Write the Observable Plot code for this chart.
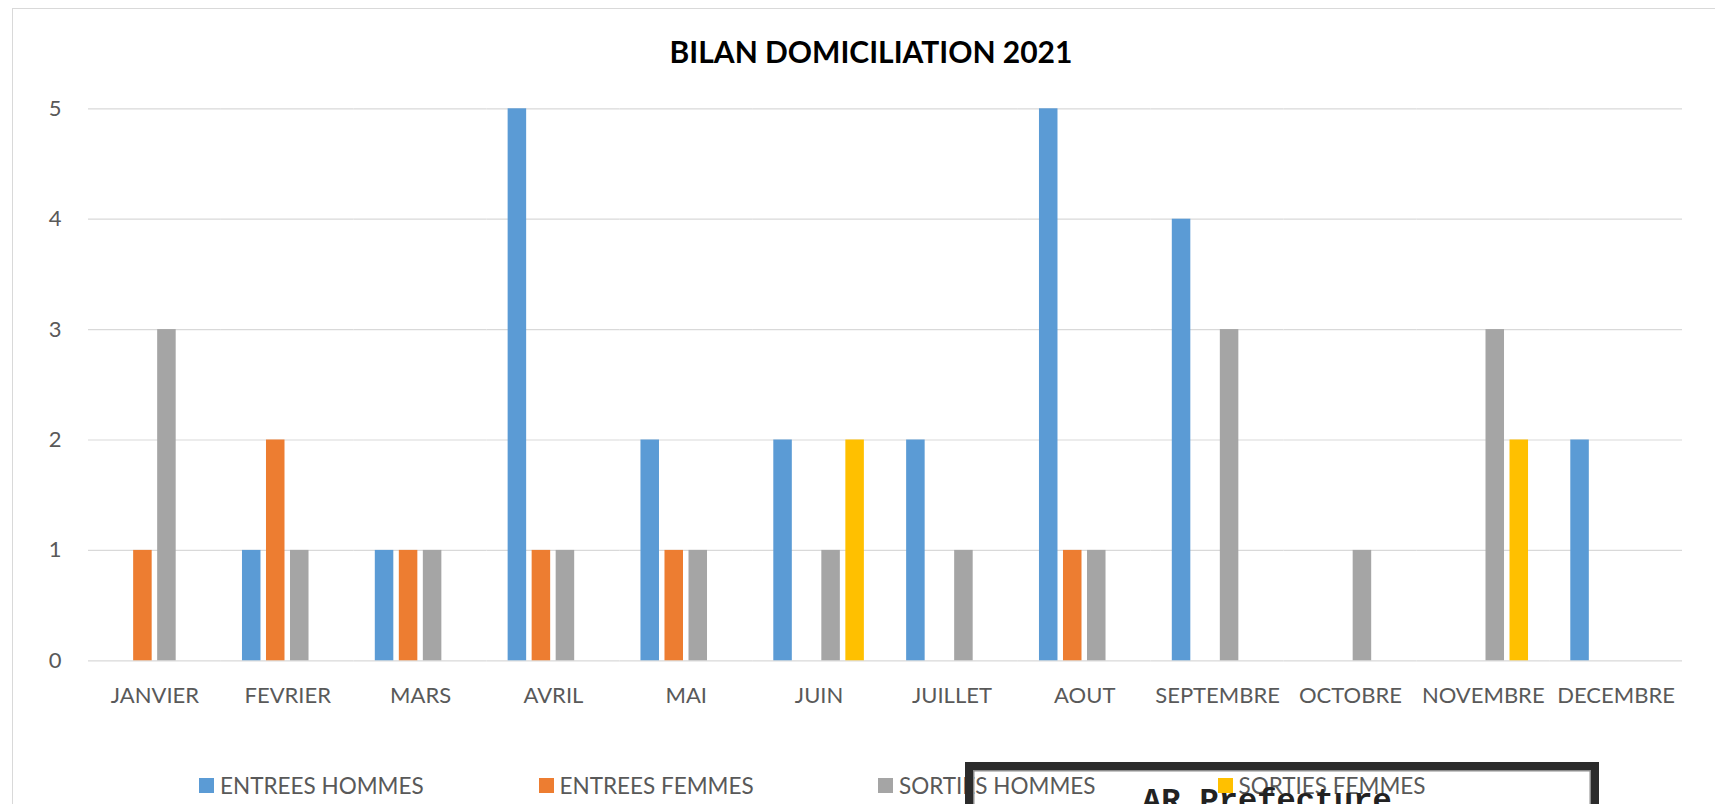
<!DOCTYPE html>
<html>
<head>
<meta charset="utf-8">
<script src="https://cdn.jsdelivr.net/npm/d3@7"></script>
<script src="https://cdn.jsdelivr.net/npm/@observablehq/plot@0.6"></script>
<style>
  html, body { margin: 0; padding: 0; background: #fff; overflow: hidden; }
  #wrap { position: relative; width: 1715px; height: 804px; overflow: hidden; background: #fff; }
  #frame { position: absolute; left: 12px; top: 8px; width: 2000px; height: 2000px; border: 1px solid #d9d9d9; box-sizing: border-box; }
  #title { position: absolute; left: 0; width: 1742px; top: 33px; text-align: center; font: 700 30px Lato, sans-serif; line-height: 1.2; color: #000; white-space: nowrap; }
  #chart { position: absolute; left: 0; top: 0; }
  .leg { position: absolute; top: 772px; font: 400 22.5px Lato, sans-serif; line-height: 1.2; color: #595959; white-space: nowrap; }
  .leg .sw { position: absolute; left: 0; top: 6px; width: 15px; height: 15px; }
  .leg .tx { margin-left: 21px; }
  #stamp { position: absolute; left: 965px; top: 762px; width: 634px; height: 200px; border: 8px solid #2b2b2b; box-sizing: border-box; box-shadow: inset 0 0 0 1.5px #8c8c8c; background: transparent; }
  #stampText { position: absolute; left: 1142px; top: 784px; font: 700 32px "Liberation Mono", monospace; line-height: 1.133; color: #222; white-space: nowrap; }
</style>
</head>
<body>
<div id="wrap">
  <div id="frame"></div>
  <div id="title"></div>
  <div id="chart"></div>
  <div id="legend"></div>
  <div id="stamp"></div>
  <div id="stampText"></div>
</div>
<script>
const titleText = "BILAN DOMICILIATION 2021";
const months = ["JANVIER","FEVRIER","MARS","AVRIL","MAI","JUIN","JUILLET","AOUT","SEPTEMBRE","OCTOBRE","NOVEMBRE","DECEMBRE"];
const series = ["ENTREES HOMMES","ENTREES FEMMES","SORTIES HOMMES","SORTIES FEMMES"];
const colors = ["#5b9bd5","#ed7d31","#a5a5a5","#ffc000"];
const entreesHommes = [0,1,1,5,2,2,2,5,4,0,0,2];
const entreesFemmes = [1,2,1,1,1,0,0,1,0,0,0,0];
const sortiesHommes = [3,1,1,1,1,1,1,1,3,1,3,0];
const sortiesFemmes = [0,0,0,0,0,2,0,0,0,0,2,0];
const yTicks = [0,1,2,3,4,5];
const stampLabel = "AR Prefecture";

const values = [entreesHommes, entreesFemmes, sortiesHommes, sortiesFemmes];
const data = [];
months.forEach((m, i) => {
  series.forEach((s, j) => {
    data.push({month: m, series: s, value: values[j][i]});
  });
});

document.getElementById("title").textContent = titleText;

const chart = Plot.plot({
  width: 1715,
  height: 720,
  marginLeft: 88,
  marginRight: 33,
  marginTop: 108.3,
  marginBottom: 59.7,
  style: {fontFamily: "Lato, sans-serif", color: "#595959", background: "transparent", overflow: "visible"},
  fx: {domain: months, paddingInner: 0, paddingOuter: 0, round: false, label: null},
  x: {domain: series, paddingInner: 0.229, paddingOuter: 0.88, round: false, axis: null},
  y: {domain: [0, 5], nice: false, label: null},
  color: {domain: series, range: colors},
  marks: [
    Plot.gridY(yTicks, {stroke: "#d9d9d9", strokeOpacity: 1, strokeWidth: 1.2}),
    Plot.barY(data.filter(d => d.value > 0), {fx: "month", x: "series", y: "value", fill: "series"}),
    Plot.axisY(yTicks, {tickSize: 0, tickPadding: 27, fontSize: 22, label: null, fill: "#595959", tickFormat: d => String(d)}),
    Plot.axisFx({anchor: "bottom", tickSize: 0, tickPadding: 27, fontSize: 22, label: null, fill: "#595959"})
  ]
});
document.getElementById("chart").appendChild(chart);

const legend = document.getElementById("legend");
series.forEach((s, j) => {
  const item = document.createElement("div");
  item.className = "leg";
  item.style.left = (199 + j * 339.5) + "px";
  const sw = document.createElement("span");
  sw.className = "sw";
  sw.style.background = colors[j];
  const tx = document.createElement("span");
  tx.className = "tx";
  tx.textContent = s;
  item.appendChild(sw);
  item.appendChild(tx);
  legend.appendChild(item);
});

document.getElementById("stampText").textContent = stampLabel;
</script>
</body>
</html>
